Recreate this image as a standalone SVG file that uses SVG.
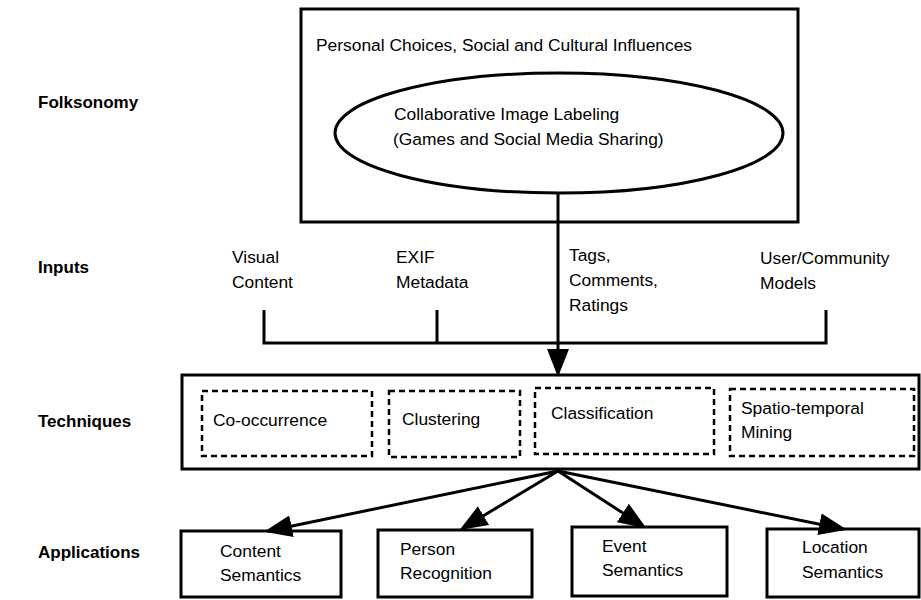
<svg xmlns="http://www.w3.org/2000/svg" width="921" height="600" viewBox="0 0 921 600">
<defs>
<marker id="ah" markerWidth="28" markerHeight="22" refX="24" refY="11" orient="auto" markerUnits="userSpaceOnUse"><path d="M0,0 L28,11 L0,22 z" fill="#000"/></marker>
<style>
text{font-family:"Liberation Sans",Arial,sans-serif;font-size:17.4px;fill:#000}
.lbl{font-weight:bold;font-size:17px}
.box{fill:#fff;stroke:#000;stroke-width:3}
.dash{fill:none;stroke:#000;stroke-width:2.5;stroke-dasharray:6 4}
.con{fill:none;stroke:#000;stroke-width:3}
</style>
</defs>
<rect width="921" height="600" fill="#fff"/>
<g id="labels">
<text class="lbl" x="38" y="108">Folksonomy</text>
<text class="lbl" x="38" y="273">Inputs</text>
<text class="lbl" x="38" y="427">Techniques</text>
<text class="lbl" x="38" y="558">Applications</text>
</g>
<g id="folksonomy">
<rect class="box" x="301" y="9" width="497" height="213"/>
<text x="316" y="51">Personal Choices, Social and Cultural Influences</text>
</g>
<g id="labeling">
<ellipse class="box" cx="559" cy="133" rx="224" ry="60"/>
<text x="394" y="120">Collaborative Image Labeling</text>
<text x="393" y="145">(Games and Social Media Sharing)</text>
</g>
<g id="inputs">
<text x="232" y="263">Visual</text><text x="232" y="288">Content</text>
<text x="396" y="263">EXIF</text><text x="396" y="288">Metadata</text>
<text x="569" y="261">Tags,</text><text x="569" y="286">Comments,</text><text x="569" y="311">Ratings</text>
<text x="760" y="264">User/Community</text><text x="760" y="289">Models</text>
</g>
<g id="techniques">
<rect class="box" x="182" y="375" width="737" height="94"/>
<rect class="dash" x="202" y="391" width="170" height="65"/>
<text x="213" y="426">Co-occurrence</text>
<rect class="dash" x="389" y="391" width="131" height="66"/>
<text x="402" y="425">Clustering</text>
<rect class="dash" x="535" y="388" width="179" height="66"/>
<text x="551" y="419">Classification</text>
<rect class="dash" x="730" y="389" width="184" height="67"/>
<text x="741" y="414">Spatio-temporal</text>
<text x="741" y="438">Mining</text>
</g>
<g id="app-content">
<rect class="box" x="181" y="531" width="160" height="66"/>
<text x="220" y="557">Content</text><text x="220" y="581">Semantics</text>
</g>
<g id="app-person">
<rect class="box" x="378" y="530" width="154" height="67"/>
<text x="400" y="555">Person</text><text x="400" y="579">Recognition</text>
</g>
<g id="app-event">
<rect class="box" x="572" y="527" width="155" height="69"/>
<text x="602" y="552">Event</text><text x="602" y="576">Semantics</text>
</g>
<g id="app-location">
<rect class="box" x="767" y="529" width="152" height="68"/>
<text x="802" y="553">Location</text><text x="802" y="578">Semantics</text>
</g>
<g id="connectors">
<path class="con" d="M264,310 V343 H826 V310 M437,310 V343"/>
<line class="con" x1="558" y1="193" x2="558" y2="373" marker-end="url(#ah)"/>
<line class="con" x1="558" y1="471" x2="268" y2="531" marker-end="url(#ah)"/>
<line class="con" x1="558" y1="471" x2="463" y2="528" marker-end="url(#ah)"/>
<line class="con" x1="558" y1="471" x2="643" y2="526" marker-end="url(#ah)"/>
<line class="con" x1="558" y1="471" x2="843" y2="529" marker-end="url(#ah)"/>
</g>
</svg>
